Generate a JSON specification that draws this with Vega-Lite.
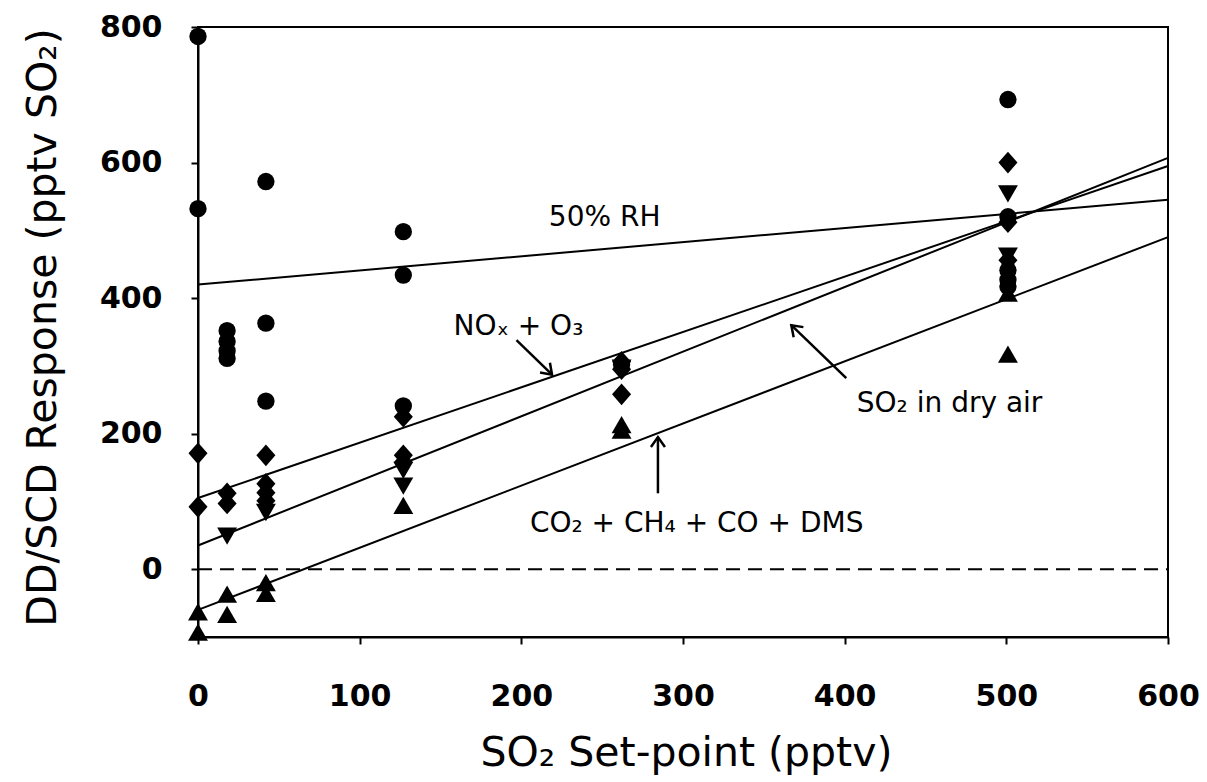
{
  "$schema": "https://vega.github.io/schema/vega-lite/v6.json",
  "width": 970,
  "height": 610,
  "autosize": {"type": "none"},
  "padding": {"left": 198, "top": 27, "right": 39, "bottom": 145},
  "background": "white",
  "config": {
    "view": {"stroke": "black", "strokeWidth": 2},
    "font": "DejaVu Sans",
    "axis": {
      "grid": false,
      "domainColor": "black",
      "domainWidth": 2,
      "tickColor": "black",
      "tickWidth": 2,
      "tickSize": 7,
      "labelFlush": false,
      "labelOverlap": false,
      "labelFont": "DejaVu Sans",
      "labelFontSize": 30,
      "labelFontWeight": "bold",
      "labelColor": "black",
      "titleFont": "DejaVu Sans",
      "titleFontSize": 41,
      "titleFontWeight": "normal",
      "titleColor": "black"
    }
  },
  "datasets": {
    "fits": [
      {"series": "RH", "x": 0, "y": 420}, {"series": "RH", "x": 600, "y": 545},
      {"series": "NOx", "x": 0, "y": 105}, {"series": "NOx", "x": 600, "y": 595},
      {"series": "dry", "x": 0, "y": 35}, {"series": "dry", "x": 600, "y": 607},
      {"series": "CO2", "x": 0, "y": -60}, {"series": "CO2", "x": 600, "y": 490}
    ],
    "obs": [
      {"series": "RH", "x": 0, "y": 786}, {"series": "RH", "x": 0, "y": 532},
      {"series": "RH", "x": 18, "y": 352}, {"series": "RH", "x": 18, "y": 336},
      {"series": "RH", "x": 18, "y": 322}, {"series": "RH", "x": 18, "y": 311},
      {"series": "RH", "x": 42, "y": 572}, {"series": "RH", "x": 42, "y": 363},
      {"series": "RH", "x": 42, "y": 248}, {"series": "RH", "x": 127, "y": 498},
      {"series": "RH", "x": 127, "y": 434}, {"series": "RH", "x": 127, "y": 241},
      {"series": "RH", "x": 262, "y": 302}, {"series": "RH", "x": 501, "y": 693},
      {"series": "RH", "x": 501, "y": 520}, {"series": "RH", "x": 501, "y": 441},
      {"series": "RH", "x": 501, "y": 427}, {"series": "RH", "x": 501, "y": 417},
      {"series": "NOx", "x": 0, "y": 171}, {"series": "NOx", "x": 0, "y": 92},
      {"series": "NOx", "x": 18, "y": 112}, {"series": "NOx", "x": 18, "y": 97},
      {"series": "NOx", "x": 42, "y": 168}, {"series": "NOx", "x": 42, "y": 126},
      {"series": "NOx", "x": 42, "y": 113}, {"series": "NOx", "x": 42, "y": 101},
      {"series": "NOx", "x": 127, "y": 225}, {"series": "NOx", "x": 127, "y": 168},
      {"series": "NOx", "x": 127, "y": 158}, {"series": "NOx", "x": 262, "y": 306},
      {"series": "NOx", "x": 262, "y": 295}, {"series": "NOx", "x": 262, "y": 258},
      {"series": "NOx", "x": 501, "y": 600}, {"series": "NOx", "x": 501, "y": 512},
      {"series": "NOx", "x": 501, "y": 456},
      {"series": "dry", "x": 18, "y": 50}, {"series": "dry", "x": 42, "y": 85},
      {"series": "dry", "x": 127, "y": 147}, {"series": "dry", "x": 127, "y": 124},
      {"series": "dry", "x": 262, "y": 298}, {"series": "dry", "x": 501, "y": 555},
      {"series": "dry", "x": 501, "y": 463},
      {"series": "CO2", "x": 0, "y": -64}, {"series": "CO2", "x": 0, "y": -94},
      {"series": "CO2", "x": 18, "y": -38}, {"series": "CO2", "x": 18, "y": -68},
      {"series": "CO2", "x": 42, "y": -21}, {"series": "CO2", "x": 42, "y": -37},
      {"series": "CO2", "x": 127, "y": 93}, {"series": "CO2", "x": 262, "y": 212},
      {"series": "CO2", "x": 262, "y": 204}, {"series": "CO2", "x": 501, "y": 406},
      {"series": "CO2", "x": 501, "y": 316}
    ],
    "arrows": [
      {"name": "NOx", "x": 197, "y": 338, "x2": 219, "y2": 287},
      {"name": "dry", "x": 401, "y": 282, "x2": 367, "y2": 360},
      {"name": "CO2", "x": 284.5, "y": 112, "x2": 284.5, "y2": 195}
    ],
    "labels": [
      {"text": "50% RH", "x": 217, "y": 506},
      {"text": "NOₓ + O₃", "x": 158, "y": 346},
      {"text": "SO₂ in dry air", "x": 407.5, "y": 232.5},
      {"text": "CO₂ + CH₄ + CO + DMS", "x": 205.3, "y": 55}
    ]
  },
  "encoding": {
    "x": {
      "field": "x",
      "type": "quantitative",
      "scale": {"domain": [0, 600], "nice": false},
      "axis": {
        "values": [0, 100, 200, 300, 400, 500, 600],
        "title": "SO₂ Set-point (pptv)",
        "labelPadding": 37,
        "titleX": 488,
        "titleY": 128,
        "titleAlign": "center",
        "titleBaseline": "alphabetic"
      }
    },
    "y": {
      "field": "y",
      "type": "quantitative",
      "scale": {"domain": [-100, 800], "nice": false},
      "axis": {
        "values": [0, 200, 400, 600, 800],
        "title": "DD/SCD Response (pptv SO₂)",
        "labelPadding": 29,
        "titleAngle": -90,
        "titleX": -143,
        "titleY": 300,
        "titleAlign": "center",
        "titleBaseline": "alphabetic"
      }
    }
  },
  "layer": [
    {
      "data": {"values": [{"x": 0, "y": 0, "x2": 600}]},
      "mark": {"type": "rule", "color": "black", "strokeWidth": 2, "strokeDash": [14, 8]},
      "encoding": {"x2": {"field": "x2"}}
    },
    {
      "data": {"name": "fits"},
      "mark": {"type": "line", "color": "black", "strokeWidth": 2},
      "encoding": {"detail": {"field": "series"}}
    },
    {
      "data": {"name": "obs"},
      "mark": {"type": "point", "filled": true, "color": "black", "opacity": 1, "size": 300},
      "encoding": {
        "shape": {
          "field": "series",
          "type": "nominal",
          "scale": {
            "domain": ["RH", "NOx", "dry", "CO2"],
            "range": ["circle", "M-1.1,0L0,-1.25L1.1,0L0,1.25Z", "M-1.15,-0.9L1.15,-0.9L0,1.1Z", "M-1.15,0.9L1.15,0.9L0,-1.1Z"]
          },
          "legend": null
        }
      }
    },
    {
      "data": {"name": "arrows"},
      "mark": {"type": "rule", "color": "black", "strokeWidth": 2.5},
      "encoding": {"x2": {"field": "x2"}, "y2": {"field": "y2"}}
    },
    {
      "data": {"name": "arrows"},
      "transform": [{"filter": "datum.name === 'NOx'"}],
      "mark": {"type": "point", "shape": "M-0.7,1L0,0L0.7,1", "filled": false, "color": "black", "strokeWidth": 2.5, "opacity": 1, "size": 400, "angle": 135},
      "encoding": {"x": {"field": "x2", "type": "quantitative"}, "y": {"field": "y2", "type": "quantitative"}}
    },
    {
      "data": {"name": "arrows"},
      "transform": [{"filter": "datum.name === 'dry'"}],
      "mark": {"type": "point", "shape": "M-0.7,1L0,0L0.7,1", "filled": false, "color": "black", "strokeWidth": 2.5, "opacity": 1, "size": 400, "angle": 314},
      "encoding": {"x": {"field": "x2", "type": "quantitative"}, "y": {"field": "y2", "type": "quantitative"}}
    },
    {
      "data": {"name": "arrows"},
      "transform": [{"filter": "datum.name === 'CO2'"}],
      "mark": {"type": "point", "shape": "M-0.7,1L0,0L0.7,1", "filled": false, "color": "black", "strokeWidth": 2.5, "opacity": 1, "size": 400, "angle": 0},
      "encoding": {"x": {"field": "x2", "type": "quantitative"}, "y": {"field": "y2", "type": "quantitative"}}
    },
    {
      "data": {"name": "labels"},
      "mark": {"type": "text", "align": "left", "baseline": "alphabetic", "font": "DejaVu Sans", "fontSize": 28, "color": "black"},
      "encoding": {"text": {"field": "text"}}
    }
  ]
}
